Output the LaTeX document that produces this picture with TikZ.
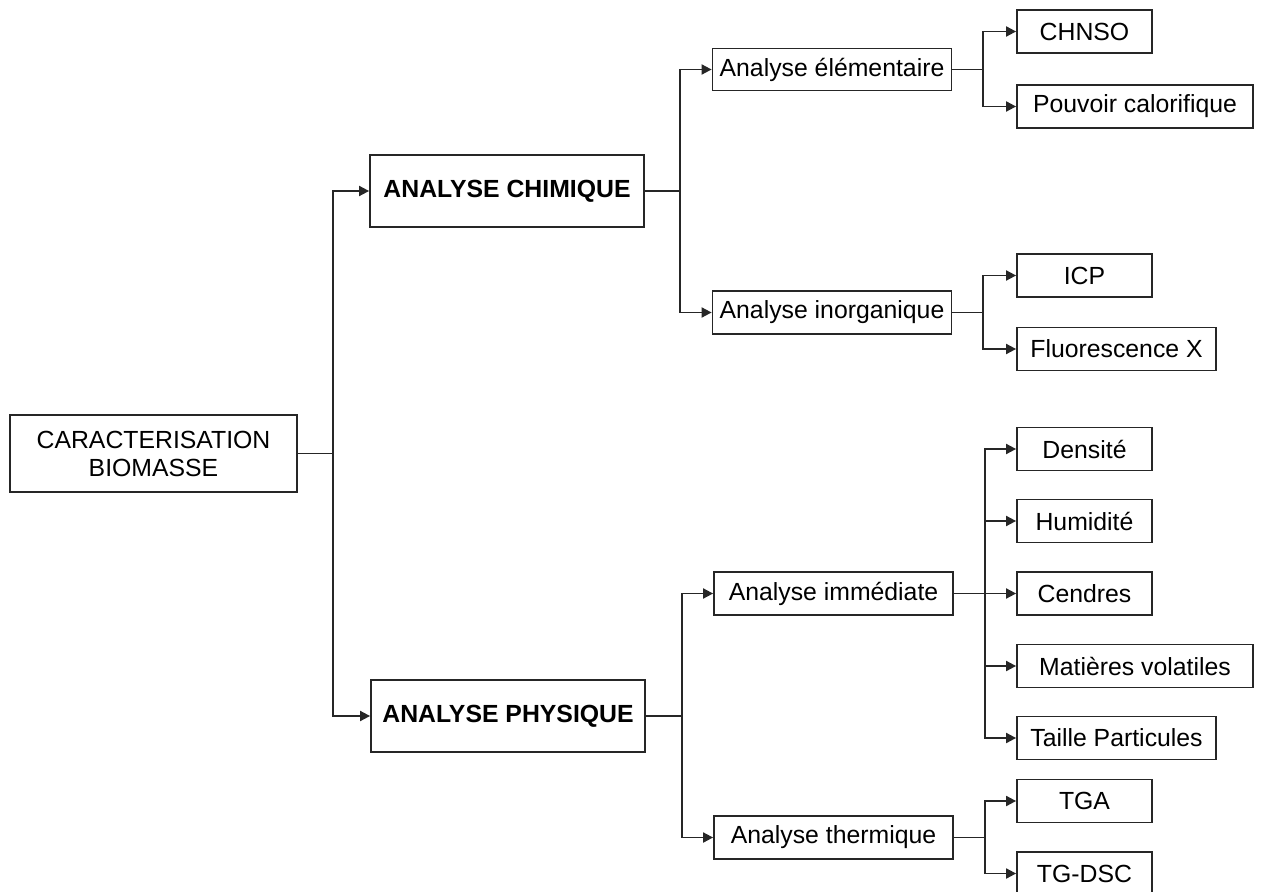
\documentclass[tikz,border=0pt]{standalone}
\usepackage{fontspec}
\setmainfont{Liberation Sans}
\usetikzlibrary{arrows.meta,calc}
\begin{document}
\begin{tikzpicture}[x=0.5pt,y=-0.5pt,
  every node/.style={font=\fontsize{12.4}{14}\selectfont},
  box/.style={draw=black!85, line width=0.9pt, inner sep=0pt, minimum height=21.5pt, align=center},
  big/.style={box, minimum height=36pt, minimum width=137pt, font=\fontsize{12.4}{14}\selectfont\bfseries},
  mid/.style={box, minimum width=119.5pt},
  leafS/.style={box, minimum width=67.5pt},
  leafM/.style={box, minimum width=99.5pt},
  leafL/.style={box, minimum width=118pt},
  conn/.style={draw=black!85, line width=0.9pt},
  arr/.style={conn, -{Triangle[length=5pt,width=5pt]}}
]
\useasboundingbox (0,0) rectangle (1261,892);
\fill[white] (0,0) rectangle (1261,892);

% nodes
\node[box, minimum width=143.5pt, minimum height=38.5pt] (root) at (153.5,453.5) {CARACTERISATION\\BIOMASSE};
\node[big] (chim) at (507,191) {ANALYSE CHIMIQUE};
\node[big] (phys) at (508,716) {ANALYSE PHYSIQUE};

\node[mid, minimum height=21pt] (elem) at (832,69.5) {Analyse élémentaire};
\node[mid] (inorg) at (832,312.5) {Analyse inorganique};
\node[mid] (imm) at (833.5,593.5) {Analyse immédiate};
\node[mid] (therm) at (833.5,837.5) {Analyse thermique};

\node[leafS] (chnso) at (1084.5,31.5) {CHNSO};
\node[leafL] (pouv) at (1135,106.5) {Pouvoir calorifique};
\node[leafS] (icp) at (1084.5,275.5) {ICP};
\node[leafM] (fluo) at (1116.5,349) {Fluorescence X};
\node[leafS] (dens) at (1084.5,449) {Densité};
\node[leafS] (humi) at (1084.5,521) {Humidité};
\node[leafS] (cend) at (1084.5,593.5) {Cendres};
\node[leafL] (mati) at (1135,666) {Matières volatiles};
\node[leafM] (tail) at (1116.5,738) {Taille Particules};
\node[leafS] (tga) at (1084.5,801) {TGA};
\node[leafS] (tgdsc) at (1084.5,873.5) {TG-DSC};

% trunk coordinates
\coordinate (t0) at (333,0);
\coordinate (t1) at (680,0);
\coordinate (t2) at (682,0);
\coordinate (t3) at (983,0);
\coordinate (t4) at (985,0);

% connectors
\draw[conn] (root.east) -- (t0 |- root.east);
\draw[arr] (t0 |- root.east) |- (chim.west);
\draw[arr] (t0 |- root.east) |- (phys.west);

\draw[conn] (chim.east) -- (t1 |- chim.east);
\draw[arr] (t1 |- chim.east) |- (elem.west);
\draw[arr] (t1 |- chim.east) |- (inorg.west);

\draw[conn] (phys.east) -- (t2 |- phys.east);
\draw[arr] (t2 |- phys.east) |- (imm.west);
\draw[arr] (t2 |- phys.east) |- (therm.west);

\draw[conn] (elem.east) -- (t3 |- elem.east);
\draw[arr] (t3 |- elem.east) |- (chnso.west);
\draw[arr] (t3 |- elem.east) |- (pouv.west);

\draw[conn] (inorg.east) -- (t3 |- inorg.east);
\draw[arr] (t3 |- inorg.east) |- (icp.west);
\draw[arr] (t3 |- inorg.east) |- (fluo.west);

\draw[arr] (imm.east) -- (cend.west);
\draw[arr] (t4 |- imm.east) |- (dens.west);
\draw[arr] (t4 |- imm.east) |- (humi.west);
\draw[arr] (t4 |- imm.east) |- (mati.west);
\draw[arr] (t4 |- imm.east) |- (tail.west);

\draw[conn] (therm.east) -- (t4 |- therm.east);
\draw[arr] (t4 |- therm.east) |- (tga.west);
\draw[arr] (t4 |- therm.east) |- (tgdsc.west);
\end{tikzpicture}
\end{document}
